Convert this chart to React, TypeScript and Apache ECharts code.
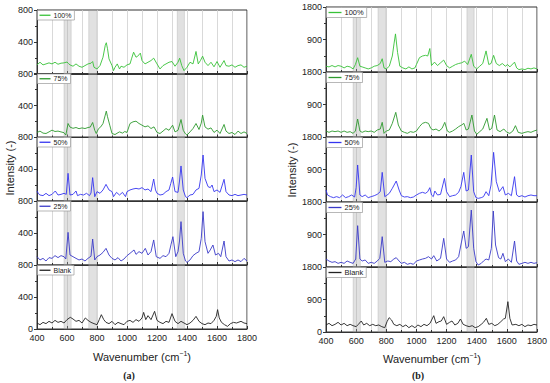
import React, { useEffect, useRef } from "react";
import * as echarts from "echarts";

// ---------- data ----------
const xTicks = [400, 600, 800, 1000, 1200, 1400, 1600, 1800];
const seriesNames = ["100%", "75%", "50%", "25%", "Blank"];
const seriesColors = ["#38c238", "#2e9a2e", "#3535f0", "#3a3ac8", "#222222"];
const bands: [number, number][] = [[580, 628], [745, 797], [1335, 1383]];

const a100: [number, number][] = [[400,114],[420,147],[440,114],[460,126],[480,139],[500,126],[520,147],[540,122],[560,135],[580,139],[600,150],[610,130],[620,114],[640,97],[660,126],[680,97],[700,84],[720,105],[740,126],[760,135],[771,156],[780,84],[800,63],[820,105],[840,210],[855,358],[862,391],[870,316],[880,189],[900,105],[910,42],[920,84],[935,126],[950,63],[960,97],[980,84],[1000,114],[1020,126],[1030,189],[1044,273],[1060,210],[1070,220],[1089,261],[1100,168],[1120,126],[1140,147],[1160,168],[1178,198],[1200,126],[1220,63],[1240,105],[1260,126],[1280,147],[1300,156],[1320,97],[1340,147],[1351,198],[1365,105],[1380,42],[1400,84],[1420,147],[1440,126],[1460,282],[1475,126],[1490,170],[1504,223],[1520,147],[1540,105],[1560,147],[1580,90],[1600,156],[1620,84],[1647,168],[1660,105],[1680,97],[1700,114],[1720,84],[1740,105],[1760,114],[1780,84],[1800,97]];
const a75: [number, number][] = [[400,63],[420,80],[440,55],[460,50],[480,70],[500,92],[520,75],[540,80],[560,70],[580,60],[592,30],[607,175],[620,130],[640,115],[660,125],[680,110],[700,120],[720,112],[740,125],[755,130],[771,188],[785,90],[795,50],[810,110],[825,133],[840,175],[855,280],[862,330],[870,260],[885,154],[900,50],[920,37],[940,60],[950,70],[970,55],[985,75],[1000,63],[1020,175],[1040,196],[1060,204],[1080,175],[1100,154],[1120,133],[1140,146],[1160,112],[1180,133],[1200,63],[1220,50],[1240,80],[1260,112],[1280,90],[1304,154],[1320,70],[1340,90],[1360,225],[1375,90],[1390,45],[1400,30],[1420,70],[1440,112],[1460,175],[1480,100],[1495,180],[1504,280],[1520,133],[1540,104],[1560,120],[1580,63],[1600,92],[1620,50],[1647,163],[1660,80],[1680,50],[1700,63],[1720,37],[1740,80],[1760,50],[1780,70],[1800,50]];
const a50: [number, number][] = [[400,125],[410,90],[420,75],[440,67],[460,96],[480,67],[500,83],[522,125],[540,75],[560,83],[580,96],[595,83],[607,346],[620,75],[640,83],[660,125],[670,67],[690,83],[710,75],[730,96],[750,67],[760,100],[771,292],[785,54],[800,117],[820,96],[840,138],[860,208],[880,138],[900,117],[910,54],[930,108],[950,75],[970,108],[990,54],[1000,117],[1020,138],[1040,150],[1060,158],[1080,150],[1100,167],[1120,138],[1140,150],[1160,117],[1178,275],[1190,138],[1200,96],[1220,75],[1240,83],[1260,117],[1280,138],[1292,220],[1304,300],[1320,117],[1340,108],[1350,250],[1360,438],[1375,138],[1390,54],[1400,42],[1420,75],[1440,83],[1460,138],[1480,158],[1495,325],[1507,575],[1520,283],[1540,180],[1555,167],[1567,200],[1580,117],[1600,138],[1620,108],[1647,271],[1660,117],[1680,75],[1700,67],[1720,83],[1740,67],[1760,75],[1780,83],[1800,75]];
const a25: [number, number][] = [[400,104],[420,63],[440,83],[460,50],[480,92],[500,83],[520,117],[540,92],[560,117],[580,104],[592,75],[607,408],[620,125],[640,104],[660,83],[680,63],[700,75],[720,50],[740,83],[760,110],[771,325],[785,63],[800,104],[820,125],[840,158],[860,208],[880,125],[900,83],[920,63],[940,92],[960,50],[980,75],[1000,117],[1020,146],[1047,188],[1060,133],[1080,167],[1100,146],[1122,208],[1140,125],[1160,167],[1178,313],[1195,104],[1220,83],[1240,117],[1260,104],[1280,146],[1294,260],[1306,354],[1325,104],[1340,167],[1350,300],[1360,542],[1375,146],[1390,50],[1400,33],[1420,63],[1440,117],[1460,146],[1480,167],[1495,333],[1507,667],[1520,292],[1540,146],[1555,188],[1573,250],[1590,125],[1610,146],[1625,104],[1647,300],[1660,104],[1680,50],[1700,63],[1720,42],[1740,63],[1760,42],[1780,83],[1800,50]];
const aBlank: [number, number][] = [[400,75],[420,54],[440,83],[460,67],[480,96],[500,75],[520,108],[540,83],[560,96],[580,75],[600,117],[622,146],[640,125],[660,96],[680,108],[700,75],[722,138],[740,108],[760,83],[780,67],[800,54],[815,117],[829,179],[845,117],[860,83],[880,67],[900,96],[920,54],[940,83],[960,67],[980,54],[1000,96],[1020,108],[1040,83],[1060,117],[1080,96],[1100,138],[1111,208],[1125,117],[1140,167],[1160,117],[1184,221],[1200,108],[1220,83],[1240,67],[1260,96],[1280,83],[1300,192],[1320,96],[1340,67],[1360,96],[1380,75],[1400,54],[1420,75],[1440,108],[1460,158],[1480,96],[1500,67],[1520,54],[1540,75],[1560,67],[1580,108],[1595,158],[1604,242],[1615,138],[1630,83],[1650,54],[1670,33],[1690,67],[1710,83],[1730,75],[1760,96],[1780,75],[1800,67]];

const b100: [number, number][] = [[400,160],[420,141],[440,179],[460,141],[480,179],[500,160],[520,113],[540,160],[560,141],[580,85],[595,207],[610,396],[625,160],[640,141],[660,113],[680,85],[700,113],[720,160],[740,179],[760,235],[773,367],[785,113],[800,85],[820,160],[840,443],[852,800],[861,1055],[875,537],[890,160],[910,113],[930,85],[950,141],[970,85],[990,113],[1000,207],[1020,396],[1040,443],[1060,462],[1075,443],[1089,650],[1100,179],[1120,273],[1140,179],[1160,254],[1181,330],[1200,179],[1220,113],[1240,160],[1260,207],[1280,235],[1300,254],[1320,301],[1340,207],[1364,490],[1380,160],[1400,85],[1420,160],[1440,235],[1462,584],[1480,207],[1495,235],[1512,462],[1530,235],[1550,179],[1570,235],[1590,160],[1605,207],[1620,141],[1651,273],[1665,113],[1680,66],[1700,85],[1720,66],[1740,104],[1760,85],[1780,113],[1800,85]];
const b75: [number, number][] = [[400,166],[420,129],[440,166],[460,148],[480,166],[500,129],[520,166],[540,129],[560,148],[580,101],[595,166],[610,498],[625,166],[640,129],[660,166],[680,148],[700,166],[720,129],[740,194],[760,221],[773,406],[785,101],[800,166],[820,194],[840,378],[863,683],[880,332],[900,166],[920,129],[940,101],[960,148],[980,129],[1000,166],[1020,286],[1040,378],[1060,406],[1080,378],[1095,240],[1110,194],[1130,221],[1150,166],[1170,240],[1188,406],[1205,166],[1220,129],[1240,166],[1260,221],[1280,286],[1300,332],[1315,378],[1330,194],[1345,221],[1368,609],[1385,166],[1400,74],[1420,148],[1440,221],[1468,517],[1485,194],[1500,240],[1518,609],[1535,194],[1555,148],[1580,221],[1600,129],[1620,101],[1640,166],[1657,314],[1675,129],[1700,101],[1720,129],[1740,148],[1760,129],[1780,166],[1800,194]];
const b50: [number, number][] = [[400,332],[410,194],[430,148],[450,120],[470,148],[490,120],[510,194],[530,120],[550,148],[570,194],[590,138],[600,400],[610,1025],[625,194],[640,148],[660,194],[680,120],[700,148],[720,175],[740,212],[760,286],[773,821],[790,148],[800,175],[820,240],[840,378],[866,581],[885,332],[900,175],[920,138],[940,148],[960,120],[980,138],[1000,194],[1020,240],[1040,268],[1060,240],[1075,286],[1089,397],[1100,194],[1112,148],[1122,305],[1140,194],[1160,212],[1186,655],[1200,286],[1220,148],[1240,175],[1260,194],[1280,268],[1295,425],[1314,821],[1330,305],[1345,332],[1364,1301],[1380,286],[1395,120],[1410,101],[1430,120],[1445,148],[1462,286],[1480,175],[1495,471],[1512,1375],[1530,563],[1550,286],[1574,425],[1590,194],[1610,240],[1630,175],[1651,701],[1665,194],[1680,148],[1700,175],[1720,138],[1740,175],[1760,194],[1780,175],[1800,175]];
const b25: [number, number][] = [[400,221],[420,166],[440,129],[460,148],[480,101],[500,129],[520,101],[540,166],[560,129],[580,101],[597,221],[610,1145],[625,221],[640,166],[660,194],[680,101],[700,129],[720,101],[740,166],[757,240],[773,840],[790,129],[810,166],[830,148],[850,221],[866,258],[885,166],[900,101],[920,129],[940,74],[960,101],[980,74],[1000,166],[1020,194],[1040,221],[1060,240],[1080,286],[1100,221],[1115,314],[1135,166],[1160,240],[1181,794],[1200,221],[1220,129],[1240,166],[1260,194],[1280,286],[1295,609],[1314,997],[1330,517],[1345,563],[1364,1578],[1380,517],[1395,148],[1410,55],[1430,101],[1445,166],[1462,221],[1480,194],[1497,517],[1510,1551],[1525,609],[1545,258],[1560,221],[1574,378],[1590,148],[1610,221],[1630,129],[1651,720],[1665,166],[1680,74],[1700,101],[1720,129],[1740,101],[1760,129],[1780,101],[1800,120]];
const bBlank: [number, number][] = [[400,194],[420,240],[440,175],[460,212],[480,268],[500,194],[520,240],[540,175],[560,212],[580,175],[600,148],[615,212],[634,305],[650,194],[670,240],[690,175],[710,212],[730,175],[750,194],[770,148],[790,120],[805,286],[819,397],[835,332],[850,212],[870,175],[890,212],[910,148],[930,194],[950,120],[970,175],[990,120],[1010,194],[1030,148],[1050,212],[1070,175],[1090,240],[1115,452],[1130,240],[1150,286],[1165,305],[1181,425],[1200,212],[1220,268],[1236,305],[1255,194],[1275,240],[1292,360],[1310,212],[1330,175],[1350,148],[1370,175],[1390,120],[1410,148],[1430,212],[1445,268],[1464,378],[1480,212],[1500,240],[1520,175],[1540,212],[1560,286],[1578,360],[1590,378],[1607,840],[1620,378],[1635,194],[1660,212],[1680,175],[1700,212],[1720,148],[1740,194],[1760,175],[1780,212],[1800,194]];

const panelAData = [a100, a75, a50, a25, aBlank];
const panelBData = [b100, b75, b50, b25, bBlank];
const yMaxA = 800;
const yMaxB = 1800;

const FONT = "'Liberation Sans', Arial, sans-serif";

export default function App() {
  const ref = useRef<HTMLDivElement>(null);
  useEffect(() => {
    document.body.style.margin = "0";
    if (!ref.current) return;
    const chart = echarts.init(ref.current, null, { renderer: "svg" });

    const panels = [
      { left: 37, width: 210, tops: [10, 73.5, 137, 201, 265], h: 64, data: panelAData, yMax: yMaxA, fs: 7, iw: 11 },
      { left: 326, width: 211, tops: [7, 72, 137, 202, 267], h: 65, data: panelBData, yMax: yMaxB, fs: 7.5, iw: 13 },
    ];

    const grid: any[] = [];
    const xAxis: any[] = [];
    const yAxis: any[] = [];
    const series: any[] = [];
    const legend: any[] = [];
    const axisColor = "#333";
    const plain = (v: number) => String(v);

    panels.forEach((p) => {
      p.tops.forEach((top, k) => {
        const idx = grid.length;
        const bottom = k === 4;
        grid.push({
          left: p.left, top, width: p.width, height: p.h,
          show: true, borderColor: axisColor, borderWidth: 1, backgroundColor: "transparent",
        });
        xAxis.push({
          type: "value", gridIndex: idx, min: xTicks[0], max: xTicks[xTicks.length - 1], interval: 200,
          axisLine: { show: true, onZero: false, lineStyle: { color: axisColor, width: 1 } },
          axisTick: { show: true, inside: true, length: 3, lineStyle: { color: axisColor } },
          minorTick: { show: true, splitNumber: 2, length: 2, lineStyle: { color: axisColor } },
          splitLine: { show: true, lineStyle: { color: "#cfcfcf", width: 0.8 } },
          minorSplitLine: { show: true, lineStyle: { color: "#cfcfcf", width: 0.8 } },
          axisLabel: bottom
            ? { show: true, fontSize: 9, color: "#222", margin: 4, fontFamily: FONT, formatter: plain }
            : { show: false },
        });
        yAxis.push({
          type: "value", gridIndex: idx, min: 0, max: p.yMax, interval: p.yMax / 2,
          axisLine: { show: true, onZero: false, lineStyle: { color: axisColor, width: 1 } },
          axisTick: { show: true, length: 3, lineStyle: { color: axisColor } },
          minorTick: { show: true, splitNumber: 2, length: 2, lineStyle: { color: axisColor } },
          splitLine: { show: false },
          axisLabel: { fontSize: 9, color: "#222", margin: 4, fontFamily: FONT, showMinLabel: bottom, showMaxLabel: true, formatter: plain },
        });
        series.push({
          type: "line", name: seriesNames[k], xAxisIndex: idx, yAxisIndex: idx,
          data: p.data[k], symbol: "none", showSymbol: false,
          lineStyle: { width: 0.9, color: seriesColors[k] },
          itemStyle: { color: seriesColors[k] },
          z: 3,
          markArea: {
            silent: true,
            itemStyle: { color: "rgba(170,170,170,0.35)", borderColor: "rgba(150,150,150,0.55)", borderWidth: 0.5 },
            data: bands.map((b) => [{ xAxis: b[0] }, { xAxis: b[1] }]),
          },
        });
        legend.push({
          data: [seriesNames[k]], left: p.left + 0.5, top: top + 0.5, orient: "horizontal",
          selectedMode: false, icon: "rect", itemWidth: p.iw, itemHeight: 1.3, itemGap: 2,
          padding: [0.5, 3, 0.5, 2], borderColor: "#999", borderWidth: 0.7, backgroundColor: "#fff",
          textStyle: { fontSize: p.fs, color: "#222", fontFamily: FONT, lineHeight: p.fs + 1.5, padding: [0, 0, 0, -2] },
        });
      });
    });

    const rich = {
      n: { fontSize: 11, fontFamily: FONT, fill: "#222", lineHeight: 13, verticalAlign: "bottom" },
      s: { fontSize: 7, fontFamily: FONT, fill: "#222", lineHeight: 13, verticalAlign: "top", padding: [0, 0, 5, 0] },
    };
    const graphic: any[] = [
      { type: "text", x: 10, y: 168, rotation: Math.PI / 2,
        style: { text: "Intensity (-)", fontSize: 11, fill: "#222", fontFamily: FONT, align: "center", verticalAlign: "middle" } },
      { type: "text", x: 292, y: 170, rotation: Math.PI / 2,
        style: { text: "Intensity (-)", fontSize: 11, fill: "#222", fontFamily: FONT, align: "center", verticalAlign: "middle" } },
      { type: "text", x: 142, y: 356,
        style: { text: "{n|Wavenumber (cm}{s|−1}{n|)}", align: "center", verticalAlign: "middle", fill: "#222", rich } },
      { type: "text", x: 432, y: 358,
        style: { text: "{n|Wavenumber (cm}{s|−1}{n|)}", align: "center", verticalAlign: "middle", fill: "#222", rich } },
      { type: "text", x: 129, y: 375,
        style: { text: "(a)", fontSize: 10, fontWeight: "bold", fill: "#222", fontFamily: "'Liberation Serif', serif", align: "center", verticalAlign: "middle" } },
      { type: "text", x: 418, y: 375,
        style: { text: "(b)", fontSize: 10, fontWeight: "bold", fill: "#222", fontFamily: "'Liberation Serif', serif", align: "center", verticalAlign: "middle" } },
    ];

    chart.setOption({
      animation: false,
      backgroundColor: "#fff",
      textStyle: { fontFamily: FONT },
      grid, xAxis, yAxis, series, legend, graphic,
    });
    return () => chart.dispose();
  }, []);
  return <div ref={ref} style={{ width: 550, height: 383 }} />;
}
